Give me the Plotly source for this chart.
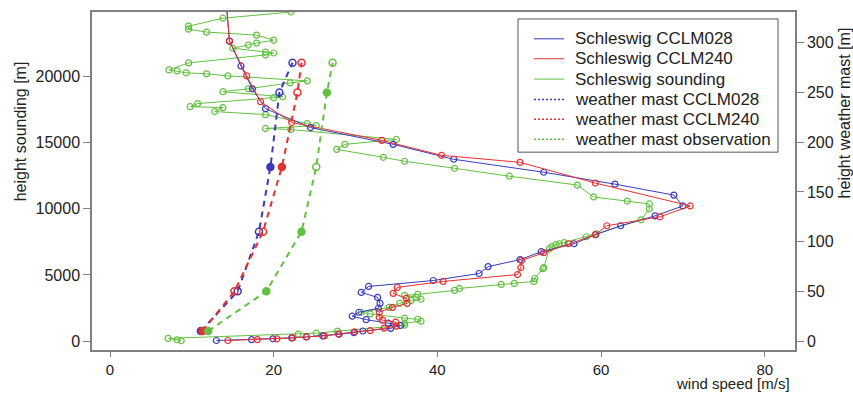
import plotly.graph_objects as go

# ---------------- data ----------------
# Schleswig model profiles (wind speed [m/s], height [m])
cclm028_speed = [13.0, 17.3, 19.9, 22.2, 24.0, 26.0, 28.0, 29.8, 30.9, 34.3, 35.5, 34.0, 31.3, 29.6,
                 30.4, 32.8, 33.0, 32.7, 30.7, 31.6, 39.5, 45.1, 46.2, 50.1, 52.7, 56.7, 59.3, 62.4,
                 66.6, 70.0, 68.9, 61.7, 53.0, 42.0, 34.6, 24.5, 19.0, 17.4, 16.0, 14.6, 14.2]
cclm028_height = [40, 110, 170, 240, 310, 390, 510, 640, 760, 960, 1180, 1350, 1620, 1880,
                  2180, 2480, 2850, 3300, 3680, 4130, 4580, 5110, 5630, 6160, 6760, 7360, 8040, 8720,
                  9470, 10220, 11040, 11870, 12770, 13750, 14880, 16150, 17580, 19080, 20810, 22690, 25600]

cclm240_speed = [14.4, 18.0, 20.4, 22.3, 24.0, 26.2, 27.9, 29.9, 31.8, 33.5, 35.0, 34.9, 33.3, 32.9,
                 32.9, 34.5, 36.3, 36.2, 34.6, 35.1, 40.7, 49.8, 50.2, 50.3, 53.0, 56.0, 59.3, 60.7,
                 67.2, 70.9, 59.3, 50.1, 40.5, 33.2, 22.2, 18.4, 16.7, 14.6, 14.2]
cclm240_height = [40, 110, 170, 240, 310, 390, 530, 700, 790, 980, 1130, 1430, 1580, 1800,
                  2180, 2550, 2850, 3230, 3610, 4060, 4510, 5030, 5560, 6100, 6690, 7360, 8040, 8720,
                  9400, 10220, 11950, 13520, 14050, 15180, 16530, 18110, 20060, 22690, 25600]

sounding_speed = [8.7, 8.2, 7.1, 23.0, 25.2, 27.8, 36.0, 36.0, 38.0, 37.6, 36.0, 31.8, 30.7, 34.1,
                  35.4, 36.8, 38.0, 37.4, 36.0, 37.6, 42.1, 42.7, 47.8, 49.4, 51.8, 51.9, 52.9, 53.0,
                  53.7, 54.0, 54.5, 54.9, 55.5, 58.2, 59.4, 64.9, 65.9, 65.9, 63.2, 59.1, 57.1, 48.8,
                  42.1, 36.0, 33.4, 27.7, 28.7, 35.0, 22.1, 19.0, 25.2, 24.1, 19.0, 12.8, 13.8, 9.8,
                  10.7, 20.0, 21.1, 13.8, 16.9, 22.0, 24.1, 14.4, 11.8, 9.3, 8.2, 7.2, 9.6, 19.0,
                  20.0, 19.0, 15.0, 16.9, 17.9, 20.0, 17.9, 11.8, 9.6, 9.6, 13.8, 22.1]
sounding_height = [20, 100, 200, 530, 600, 750, 1200, 1350, 1500, 1650, 1730, 2050, 2180, 2550,
                   2850, 3080, 3160, 3310, 3460, 3530, 3830, 3980, 4280, 4360, 4510, 4730, 5480, 5560,
                   6990, 7140, 7290, 7360, 7440, 7890, 8110, 9170, 9990, 10370, 10590, 10900, 11800, 12470,
                   13070, 13600, 13900, 14500, 14880, 15250, 16000, 16080, 16300, 16450, 17130, 17360, 17660, 17730,
                   17960, 18410, 18480, 18860, 19080, 19530, 19680, 20060, 20210, 20290, 20430, 20510, 21040, 21640,
                   21790, 21860, 22150, 22390, 22540, 22760, 23140, 23370, 23590, 23820, 24420, 24890]

# Weather mast (right axis, height [m])
mast_height = [10, 50, 110, 175, 250, 280]
mast_cclm028 = [11.1, 15.6, 18.2, 19.6, 20.7, 22.3]
mast_cclm240 = [11.3, 15.2, 18.7, 21.0, 22.9, 23.4]
mast_obs = [12.0, 19.1, 23.4, 25.2, 26.5, 27.2]

x_ticks = [0, 20, 40, 60, 80]
y_ticks = [0, 5000, 10000, 15000, 20000]
y2_ticks = [0, 50, 100, 150, 200, 250, 300]

legend_names = ["Schleswig CCLM028", "Schleswig CCLM240", "Schleswig sounding",
                "weather mast CCLM028", "weather mast CCLM240", "weather mast observation"]

# ---------------- style ----------------
BLUE = "#3a3ac0"
RED = "#e8302e"
GREEN = "#62c040"
AXC = "#808080"
TXT = "#222222"
FONT = "Liberation Sans, Arial, sans-serif"

L, R, T, B = 92, 58, 10, 44
W, H = 853, 394
pw, ph = W - L - R, H - T - B


def px(xpix):
    return (xpix - L) / pw


def py(ypix):
    return (H - B - ypix) / ph


fig = go.Figure()


def profile(x, y, color):
    fig.add_trace(go.Scatter(
        x=x, y=y, mode="lines+markers", showlegend=False,
        line=dict(color=color, width=1),
        marker=dict(symbol="circle-open", size=6, color=color, line=dict(width=1.2, color=color)),
        yaxis="y"))


profile(sounding_speed, sounding_height, GREEN)
profile(cclm028_speed, cclm028_height, BLUE)
profile(cclm240_speed, cclm240_height, RED)


def mast(x, color, symbols):
    fig.add_trace(go.Scatter(
        x=x, y=mast_height, mode="lines+markers", showlegend=False,
        line=dict(color=color, width=2, dash="6px,5px"),
        marker=dict(symbol=symbols, size=7, color=color, line=dict(width=1.5, color=color)),
        yaxis="y2"))


O, F = "circle-open", "circle"
mast(mast_cclm028, BLUE, [F, O, O, F, O, O])
mast(mast_cclm240, RED, [F, O, O, F, O, O])
mast(mast_obs, GREEN, [F, F, F, O, F, O])

# ---------------- manual legend ----------------
shapes = [dict(type="rect", xref="paper", yref="paper",
               x0=px(518), x1=px(778), y0=py(17), y1=py(151),
               line=dict(color="#555555", width=1), fillcolor="white", layer="above")]
annotations = []
row_y = [37, 57, 77.5, 98, 118, 138]
colors = [BLUE, RED, GREEN, BLUE, RED, GREEN]
dashes = ["solid", "solid", "solid", "2px,2px", "2px,2px", "2px,2px"]
widths = [1, 1, 1, 1.5, 1.5, 1.5]
for name, color, dash, lw, ry in zip(legend_names, colors, dashes, widths, row_y):
    shapes.append(dict(type="line", xref="paper", yref="paper",
                       x0=px(534), x1=px(564), y0=py(ry), y1=py(ry),
                       line=dict(color=color, width=lw, dash=dash), layer="above"))
    annotations.append(dict(text=name, xref="paper", yref="paper", x=px(573), y=py(ry),
                            xanchor="left", yanchor="middle", showarrow=False,
                            font=dict(family=FONT, size=17, color=TXT)))

annotations += [
    dict(text="height sounding [m]", xref="paper", yref="paper",
         x=px(20), y=py(130), textangle=-90, showarrow=False,
         xanchor="center", yanchor="middle", font=dict(family=FONT, size=16, color=TXT)),
    dict(text="height weather mast [m]", xref="paper", yref="paper",
         x=px(844), y=py(112), textangle=-90, showarrow=False,
         xanchor="center", yanchor="middle", font=dict(family=FONT, size=16, color=TXT)),
    dict(text="wind speed [m/s]", xref="paper", yref="paper",
         x=px(791), y=py(393.5), showarrow=False, borderpad=0,
         xanchor="right", yanchor="bottom", font=dict(family=FONT, size=15, color=TXT)),
]

axis_common = dict(showgrid=False, zeroline=False, showline=True, linecolor=AXC, linewidth=1.5,
                   ticks="outside", ticklen=7, tickcolor=AXC, tickwidth=1,
                   tickfont=dict(family=FONT, size=16, color=TXT))
x_axis_style = dict(axis_common, ticklen=5, tickfont=dict(family=FONT, size=15, color=TXT))

fig.update_layout(
    width=W, height=H,
    margin=dict(l=L, r=R, t=T, b=B),
    paper_bgcolor="white", plot_bgcolor="white",
    font=dict(family=FONT, size=16, color=TXT),
    xaxis=dict(range=[-2.2, 83.7], tickvals=x_ticks, mirror=True, **x_axis_style),
    yaxis=dict(range=[-677, 24890], tickvals=y_ticks, tickformat="d", mirror=True, **axis_common),
    yaxis2=dict(range=[-9, 331], tickvals=y2_ticks, tickformat="d", overlaying="y", side="right",
                **axis_common),
    showlegend=False,
    shapes=shapes,
    annotations=annotations,
)

fig.write_html("out.html")
